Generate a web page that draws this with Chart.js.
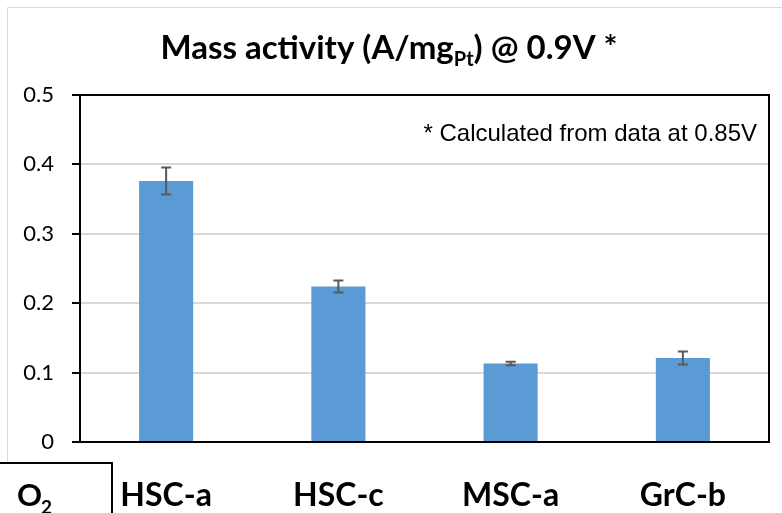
<!DOCTYPE html>
<html>
<head>
<meta charset="utf-8">
<script src="https://cdn.jsdelivr.net/npm/chart.js@4"></script>
<style>
  html, body { margin: 0; padding: 0; background: #fff; }
  #wrap { width: 782px; height: 513px; position: relative; }
</style>
</head>
<body>
<div id="wrap"><canvas id="myChart"></canvas></div>
<script>
// data
const categories = ['HSC-a', 'HSC-c', 'MSC-a', 'GrC-b'];
const massActivity = [0.376, 0.224, 0.113, 0.121];
const errors = [0.0195, 0.0087, 0.0025, 0.0093];
const yTickLabels = ['0', '0.1', '0.2', '0.3', '0.4', '0.5'];

// error bars + frame + title + notes
const extras = {
  id: 'extras',
  afterDatasetsDraw(chart) {
    const ctx = chart.ctx;
    const x = chart.scales.x, y = chart.scales.y;
    ctx.save();
    ctx.strokeStyle = '#595959';
    ctx.lineWidth = 2;
    massActivity.forEach((v, i) => {
      const px = x.getPixelForValue(i);
      const top = y.getPixelForValue(v + errors[i]);
      const bot = y.getPixelForValue(v - errors[i]);
      ctx.beginPath();
      ctx.moveTo(px, top); ctx.lineTo(px, bot);
      ctx.moveTo(px - 5, top); ctx.lineTo(px + 5, top);
      ctx.moveTo(px - 5, bot); ctx.lineTo(px + 5, bot);
      ctx.stroke();
    });
    ctx.restore();
  },
  afterDraw(chart) {
    const ctx = chart.ctx;
    const a = chart.chartArea;
    ctx.save();
    // outer light border
    ctx.strokeStyle = '#d9d9d9';
    ctx.lineWidth = 1;
    ctx.beginPath();
    ctx.moveTo(7.5, 463); ctx.lineTo(7.5, 7.5); ctx.lineTo(782, 7.5);
    ctx.stroke();
    // plot frame
    ctx.strokeStyle = '#000';
    ctx.lineWidth = 2;
    ctx.strokeRect(a.left, a.top, a.right - a.left, a.bottom - a.top);
    // O2 cell
    ctx.fillStyle = '#fff';
    ctx.fillRect(0, 463, 112, 50);
    ctx.beginPath();
    ctx.moveTo(0, 463); ctx.lineTo(112, 463); ctx.lineTo(112, 513);
    ctx.stroke();
    ctx.fillStyle = '#000';
    ctx.font = 'bold 31px Lato';
    ctx.textBaseline = 'alphabetic';
    ctx.textAlign = 'left';
    ctx.fillText('O', 17, 506);
    ctx.font = 'bold 19px Lato';
    ctx.fillText('2', 41, 514);
    // title with subscript
    const parts = [
      ['Mass activity (A/mg', 'bold 33px Lato', 0],
      ['Pt', 'bold 20px Lato', 7],
      [') @ 0.9V *', 'bold 33px Lato', 0]
    ];
    let w = 0;
    parts.forEach(p => { ctx.font = p[1]; w += ctx.measureText(p[0]).width; });
    let tx = 389 - w / 2;
    parts.forEach(p => {
      ctx.font = p[1];
      ctx.fillText(p[0], tx, 59 + p[2]);
      tx += ctx.measureText(p[0]).width;
    });
    // note
    ctx.font = '24px "Liberation Sans"';
    ctx.textAlign = 'right';
    ctx.fillText('* Calculated from data at 0.85V', 757, 141);
    ctx.restore();
  }
};

new Chart(document.getElementById('myChart'), {
  type: 'bar',
  data: {
    labels: categories,
    datasets: [{
      label: 'Mass activity',
      data: massActivity,
      backgroundColor: '#5b9bd5',
      borderWidth: 0,
      categoryPercentage: 1,
      barPercentage: 0.314
    }]
  },
  options: {
    responsive: true,
    maintainAspectRatio: false,
    animation: false,
    layout: { padding: { left: 0, top: 95, right: 13, bottom: 0 } },
    plugins: {
      legend: { display: false },
      tooltip: { enabled: false },
      title: { display: false }
    },
    scales: {
      x: {
        grid: { display: false },
        border: { display: false },
        ticks: {
          color: '#000',
          font: { family: 'Lato', size: 32, weight: 'bold' },
          padding: 26,
          maxRotation: 0
        },
        afterFit(s) { s.height = 71; }
      },
      y: {
        min: 0,
        max: 0.5,
        border: { display: false },
        grid: { color: '#d9d9d9', lineWidth: 2, tickColor: '#000', tickLength: 8 },
        ticks: {
          stepSize: 0.1,
          color: '#000',
          padding: 18,
          font: { family: 'Lato', size: 22 },
          callback: (v, i) => yTickLabels[i]
        },
        afterFit(s) { s.width = 80; }
      }
    }
  },
  plugins: [extras]
});
</script>
</body>
</html>
